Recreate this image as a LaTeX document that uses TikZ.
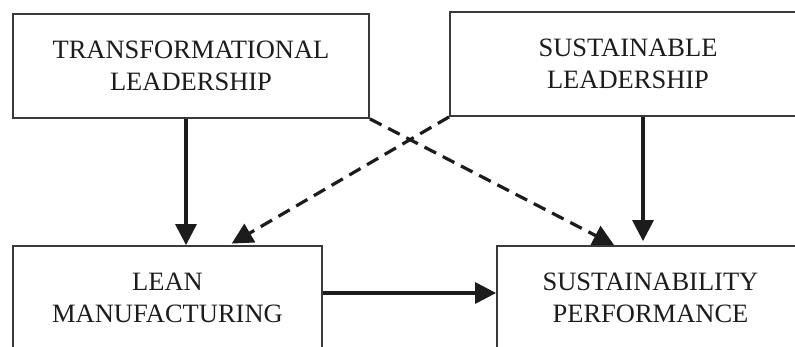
\documentclass[tikz,border=0pt]{standalone}
\usepackage{fontspec}
\setmainfont{Liberation Serif}
\usetikzlibrary{arrows.meta}
\definecolor{boxline}{HTML}{3A3A3A}
\definecolor{ink}{HTML}{1C1C1C}
\tikzset{
  constr/.style={draw=boxline, line width=1.8pt, fill=white, inner sep=0pt,
    align=center, text=ink, font=\fontsize{26.5}{32}\selectfont},
  arr/.style={draw=ink, line width=3.2pt,
    -{Triangle[length=21pt,width=21pt]}},
  darr/.style={arr, dash pattern=on 13pt off 7.5pt},
}
\begin{document}
\begin{tikzpicture}[x=1pt,y=-1pt]
  \useasboundingbox (0,0) rectangle (795,347);
  \clip (0,0) rectangle (795,347);

  \node[constr, minimum width=356pt, minimum height=104pt] (tl) at (191,66)
    {TRANSFORMATIONAL\\LEADERSHIP};
  \node[constr, minimum width=356pt, minimum height=104pt] (sl) at (628,64)
    {SUSTAINABLE\\LEADERSHIP};
  \node[constr, minimum width=309pt, minimum height=103pt] (lm) at (167.5,297.5)
    {LEAN\\MANUFACTURING};
  \node[constr, minimum width=307pt, minimum height=103pt] (sp) at (650.5,297.5)
    {SUSTAINABILITY\\PERFORMANCE};

  % direct paths
  \draw[arr] ([xshift=-5pt]tl.south) -- ([xshift=-5pt]tl.south |- lm.north);
  \draw[arr, shorten >=4pt] ([xshift=15pt]sl.south) -- ([xshift=15pt]sl.south |- sp.north);
  \draw[arr] ([yshift=4.5pt]lm.east) -- ([yshift=4.5pt]sp.west);

  % cross paths
  \draw[darr] (tl.south east) -- ([xshift=118pt]sp.north west);
  \draw[darr, shorten >=3pt] (sl.south west) -- ([xshift=217pt]lm.north west);
\end{tikzpicture}
\end{document}
